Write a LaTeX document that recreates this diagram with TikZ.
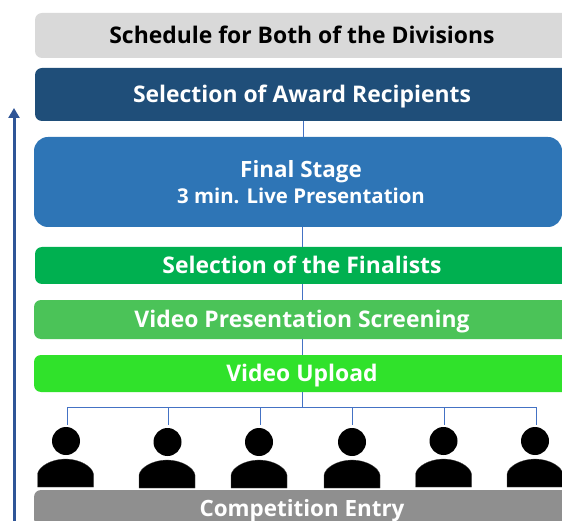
\documentclass[tikz,border=0pt]{standalone}
\usepackage{fontspec}
\setmainfont{Open Sans}
\usetikzlibrary{arrows.meta}
\definecolor{cgray}{HTML}{D9D9D9}
\definecolor{cnavy}{HTML}{1F4E79}
\definecolor{cblue}{HTML}{2E75B6}
\definecolor{cgreen}{HTML}{00B050}
\definecolor{cmid}{HTML}{4BC358}
\definecolor{clime}{HTML}{30E22B}
\definecolor{cdark}{HTML}{8F8F8F}
\definecolor{cline}{HTML}{4472C4}
\definecolor{carrow}{HTML}{2F5597}
\tikzset{
  x=1pt,y=-1pt,
  stagebox/.style={rounded corners=7pt,inner sep=0pt,text=white,font=\fontsize{22.9}{24}\bfseries\selectfont,text height=16pt,text depth=0pt,minimum width=#1},
  stagebox/.default=534pt,
  finalline/.style={text=white,inner sep=0pt,anchor=base},
  link/.style={draw=cline,line width=0.9pt},
  head/.style={circle,fill=black,minimum size=28pt,inner sep=0pt},
  body/.style={fill=black,draw=black!70,line width=0.3pt},
}
\newcommand{\personbody}[2]{% left x, top y
  \path[body] (#1,#2+28) -- (#1,#2+15) .. controls (#1+1,#2+8) and (#1+13,#2) .. (#1+28,#2)
    .. controls (#1+43,#2) and (#1+55,#2+8) .. (#1+56,#2+15) -- (#1+56,#2+28) -- cycle;}
\begin{document}
\begin{tikzpicture}
\useasboundingbox (0,0) rectangle (562,521);
\node[stagebox,fill=cgray,text=black,minimum height=45pt] (sched) at (302,35.5) {Schedule for Both of the Divisions};
\node[stagebox,fill=cnavy,minimum height=53pt] (award) at (302,94.5) {Selection of Award Recipients};
\node[stagebox=528pt,rounded corners=14pt,fill=cblue,minimum height=90pt] (final) at (298,182) {};
\node[finalline,font=\fontsize{22.4}{27}\bfseries\selectfont] (finaltext) at (301,177.7) {Final Stage};
\node[finalline,font=\fontsize{20.4}{24}\bfseries\selectfont] (finalsub) at (301,203.3) {3 min. Live Presentation};
\node[stagebox,fill=cgreen,minimum height=37pt] (finalists) at (302,265.5) {Selection of the Finalists};
\node[stagebox=536pt,fill=cmid,minimum height=39pt] (screen) at (302,319.5) {Video Presentation Screening};
\node[stagebox=536pt,fill=clime,minimum height=37pt] (upload) at (302,373.5) {Video Upload};
\node[stagebox=536pt,fill=cdark,minimum height=36pt,font=\fontsize{22.4}{24}\bfseries\selectfont] (entry) at (302,508) {Competition Entry};
% connectors
\coordinate (a1) at (303.3,121); \coordinate (a2) at (303.3,137);
\draw[link] (a1) -- (a2);
\draw[link] (302.5,227) coordinate (b1) -- (302.5,247) coordinate (b2);
\draw[link] (302.5,284) coordinate (c1) -- (302.5,300) coordinate (c2);
\draw[link] (302.5,339) coordinate (d1) -- (302.5,355) coordinate (d2);
\coordinate (bus) at (302.5,407);
\draw[link] (302.5,392) coordinate (e1) -- (bus);
% people
\node[head] (p1) at (66,441) {};
\node[head] (p2) at (167.5,442) {};
\node[head] (p3) at (259,442) {};
\node[head] (p4) at (352,442) {};
\node[head] (p5) at (443.5,441) {};
\node[head] (p6) at (535,441) {};
\personbody{37.5}{459}
\personbody{139}{460}
\personbody{231}{460}
\personbody{324}{460}
\personbody{415.5}{459}
\personbody{507}{459}
% bus
\foreach \n/\x in {1/67,2/168,3/260,4/352.7,5/444.7,6/536.7}{
  \coordinate (t\n) at (\x,407);
  \coordinate (u\n) at (\x,424.5);
  \draw[link] (t\n) -- (u\n);
}
\draw[link] (t1) -- (t6);
% arrow
\coordinate (arrowstart) at (14,521);
\coordinate (arrowend) at (14,108);
\draw[carrow,line width=3pt,-{Triangle[length=10pt,width=11pt]}] (arrowstart) -- (arrowend);
\end{tikzpicture}
\end{document}
